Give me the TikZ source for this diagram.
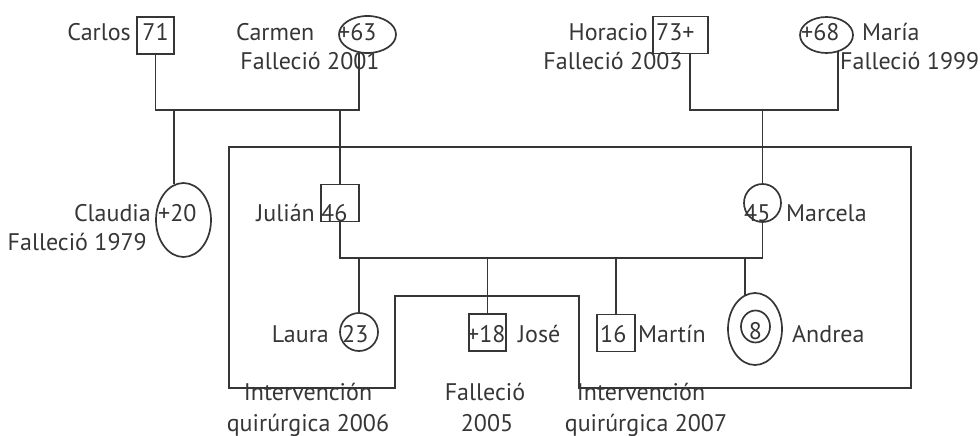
\documentclass[tikz,border=0pt]{standalone}
\usepackage{fontspec}
\setmainfont{PT Sans}
\usetikzlibrary{shapes.geometric}
\definecolor{ink}{HTML}{363638}
\tikzset{
    tie/.style={draw=ink,line width=1.7pt},
    man/.style={tie,rectangle,inner sep=0pt,minimum width=#1,minimum height=37pt},
    man/.default=37pt,
    woman/.style 2 args={tie,ellipse,inner sep=0pt,minimum width=#1,minimum height=#2},
    txt/.style={text=ink,inner sep=0pt,font=\fontsize{24}{28}\selectfont}
}
\begin{document}
\begin{tikzpicture}[x=1pt,y=-1pt]
                                    \def\ybar{110}\def\yfam{258}
                                    \useasboundingbox (0,0) rectangle (980,436);
% grandparents
                                    \node[man] (carlos) at (155.5,35.5) {};
                                    \node[woman={57pt}{37pt}] (carmen) at (367.5,34.5) {};
                                    \node[man=55pt] (horacio) at (680.5,35) {};
                                    \node[woman={53pt}{36pt}] (maria) at (826.5,35) {};
                                    \node[txt,anchor=base east] (ncarlos) at (131,41) {Carlos};
                                    \node[txt,anchor=base] (acarlos) at (155.5,41) {71};
                                    \node[txt,anchor=base west] (ncarmen) at (236,41) {Carmen};
                                    \node[txt,anchor=base west] (acarmen) at (338,41) {+63};
                                    \node[txt,anchor=base] (dcarmen) at (310,70) {Falleció 2001};
                                    \node[txt,anchor=base east] (nhoracio) at (648,41) {Horacio};
                                    \node[txt,anchor=base west] (ahoracio) at (656,41) {73+};
                                    \node[txt,anchor=base] (dhoracio) at (613,70) {Falleció 2003};
                                    \node[txt,anchor=base west] (amaria) at (801,41) {+68};
                                    \node[txt,anchor=base west] (nmaria) at (862,41) {María};
                                    \node[txt,anchor=base east] (dmaria) at (979.5,70) {Falleció 1999};

% children
                                    \node[woman={55pt}{74pt}] (claudia) at (183.5,220) {};
                                    \node[man=38pt] (julian) at (340,203) {};
                                    \node[woman={37pt}{38pt}] (marcela) at (762.5,203) {};
                                    \node[txt,anchor=base east] (nclaudia) at (151,221) {Claudia};
                                    \node[txt,anchor=base west] (aclaudia) at (158,221) {+20};
                                    \node[txt,anchor=base east] (dclaudia) at (147,250) {Falleció 1979};
                                    \node[txt,anchor=base east] (njulian) at (315,221) {Julián};
                                    \node[txt,anchor=base west] (ajulian) at (321,221) {46};
                                    \node[txt,anchor=base west] (amarcela) at (744,221) {45};
                                    \node[txt,anchor=base west] (nmarcela) at (786,221) {Marcela};

% grandchildren
                                    \node[woman={38pt}{38pt}] (laura) at (359,332) {};
                                    \node[man] (jose) at (487.5,332.5) {};
                                    \node[man=38pt] (martin) at (616,333) {};
                                    \node[woman={54pt}{72pt}] (andrea) at (755,329) {};
                                    \node[woman={29pt}{32pt}] (andreain) at (755.5,326.5) {};
                                    \node[txt,anchor=base east] (nlaura) at (329,342) {Laura};
                                    \node[txt,anchor=base west] (alaura) at (342,342) {23};
                                    \node[txt,anchor=base west] (ajose) at (467,342) {+18};
                                    \node[txt,anchor=base west] (njose) at (518,342) {José};
                                    \node[txt,anchor=base west] (amartin) at (600,342) {16};
                                    \node[txt,anchor=base west] (nmartin) at (638,342) {Martín};
                                    \node[txt,anchor=base] (aandrea) at (755.5,339) {8};
                                    \node[txt,anchor=base west] (nandrea) at (792,342) {Andrea};

% notes
                                    \node[txt,anchor=base] (op1) at (308,400) {Intervención};
                                    \node[txt,anchor=base] (op1b) at (308,431) {quirúrgica 2006};
                                    \node[txt,anchor=base] (dj) at (485,400) {Falleció};
                                    \node[txt,anchor=base] (djb) at (487,431) {2005};
                                    \node[txt,anchor=base] (op2) at (641,400) {Intervención};
                                    \node[txt,anchor=base] (op2b) at (646,431) {quirúrgica 2007};

% unions
                                    \coordinate (cd) at (359,\ybar);
                                    \coordinate (cl) at (174,\ybar);
                                    \coordinate (hd) at (690,\ybar);
                                    \coordinate (md) at (838,\ybar);
                                    \coordinate (fam) at (0,\yfam);
                                    \coordinate (an) at (745,\yfam);
                                    \draw[tie] (carlos.south) |- (cd) -- (cd |- carmen.244);
                                    \draw[tie] (horacio.south -| hd) -- (hd) -- (md) -- (md |- maria.305);
                                    \draw[tie] (cl) -- (cl |- claudia.105);
                                    \draw[tie] (julian.north) -- (julian.north |- cd);
                                    \draw[tie] (marcela.north) -- (marcela.north |- md);
                                    \draw[tie] (julian.south) -- (julian.south |- fam) -| (marcela.south);
                                    \draw[tie] (laura.north) -- (laura.north |- fam);
                                    \draw[tie] (jose.north) -- (jose.north |- fam);
                                    \draw[tie] (martin.north) -- (martin.north |- fam);
                                    \draw[tie] (an) -- (an |- andrea.107);

% household
                                    \draw[tie] (229,147) -- (911,147) -- (911,388) -- (579,388) -- (579,296) -- (395,296) -- (395,388) -- (229,388) -- cycle;
\end{tikzpicture}
\end{document}
